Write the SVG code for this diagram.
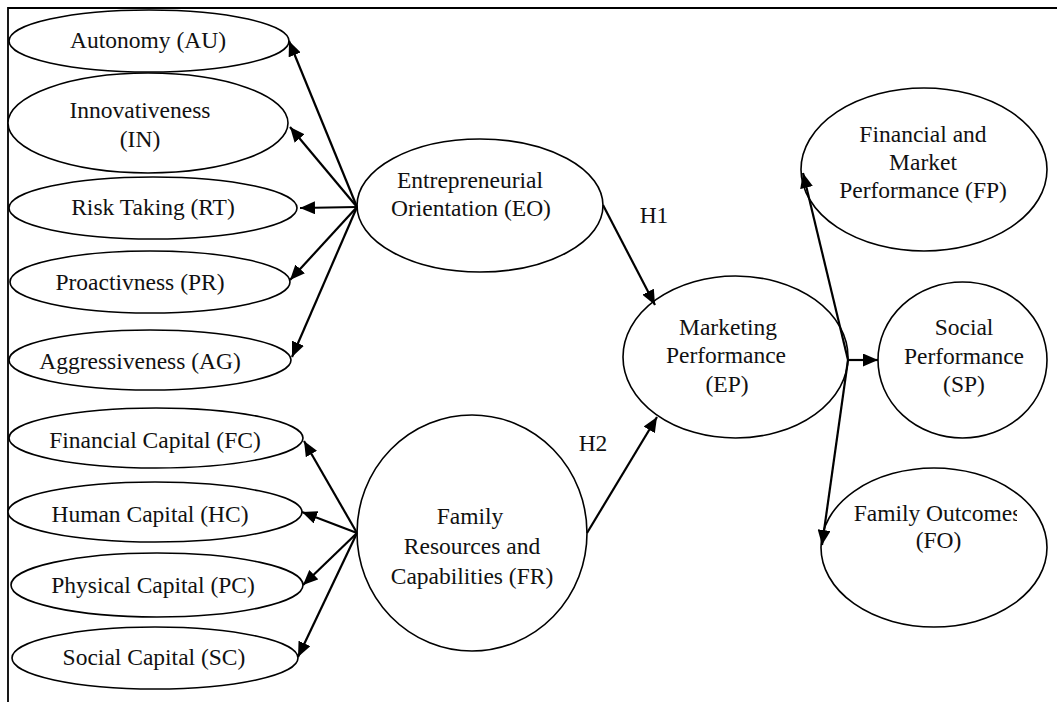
<svg xmlns="http://www.w3.org/2000/svg" width="1057" height="702" viewBox="0 0 1057 702">
<style>
.n ellipse{fill:#fff;stroke:#000;stroke-width:1.6}
text{font-family:"Liberation Serif","Times New Roman",serif;font-size:23.5px;fill:#111;text-anchor:middle}
.c line{stroke:#000;stroke-width:2.2;marker-end:url(#ah)}
.frame{stroke:#000;stroke-width:1.8;fill:none}
</style>
<defs>
<marker id="ah" markerUnits="userSpaceOnUse" markerWidth="16" markerHeight="13" refX="15" refY="6.5" orient="auto">
<path d="M0,0 L15,6.5 L0,13 z" fill="#000"/>
</marker>
<clipPath id="foclip"><rect x="800" y="460" width="217" height="180"/></clipPath>
</defs>
<rect width="1057" height="702" fill="#fff"/>
<path class="frame" d="M8,702 L8,8 L1057,8"/>

<g id="AU" class="n"><ellipse cx="149" cy="41" rx="140" ry="31"/><text x="148" y="48">Autonomy (AU)</text></g>
<g id="IN" class="n"><ellipse cx="148" cy="123" rx="140" ry="50"/><text x="140" y="118">Innovativeness</text><text x="140" y="147">(IN)</text></g>
<g id="RT" class="n"><ellipse cx="153" cy="208" rx="144" ry="31"/><text x="153" y="215">Risk Taking (RT)</text></g>
<g id="PR" class="n"><ellipse cx="150" cy="282" rx="140" ry="31"/><text x="140" y="290">Proactivness (PR)</text></g>
<g id="AG" class="n"><ellipse cx="150" cy="360" rx="141" ry="30"/><text x="140" y="369">Aggressiveness (AG)</text></g>
<g id="FC" class="n"><ellipse cx="156" cy="438" rx="147" ry="30"/><text x="155" y="448">Financial Capital (FC)</text></g>
<g id="HC" class="n"><ellipse cx="155" cy="512" rx="147" ry="30"/><text x="150" y="522">Human Capital (HC)</text></g>
<g id="PC" class="n"><ellipse cx="157" cy="585" rx="146" ry="32"/><text x="153" y="593">Physical Capital (PC)</text></g>
<g id="SC" class="n"><ellipse cx="155" cy="658" rx="143" ry="31"/><text x="154" y="665">Social Capital (SC)</text></g>

<g id="EO" class="n"><ellipse cx="480" cy="205.5" rx="123" ry="66.5"/><text x="470" y="188">Entrepreneurial</text><text x="471" y="216">Orientation (EO)</text></g>
<g id="FR" class="n"><ellipse cx="472" cy="533" rx="115" ry="118"/><text x="470" y="524">Family</text><text x="472" y="554">Resources and</text><text x="472" y="584">Capabilities (FR)</text></g>
<g id="EP" class="n"><ellipse cx="735.5" cy="357" rx="112.5" ry="81"/><text x="728" y="335">Marketing</text><text x="726" y="363">Performance</text><text x="727" y="392">(EP)</text></g>
<g id="FP" class="n"><ellipse cx="924" cy="169.5" rx="123" ry="81.5"/><text x="923" y="142">Financial and</text><text x="923" y="170">Market</text><text x="923" y="198">Performance (FP)</text></g>
<g id="SP" class="n"><ellipse cx="962.5" cy="360" rx="84.5" ry="78"/><text x="964" y="335">Social</text><text x="964" y="364">Performance</text><text x="964" y="392">(SP)</text></g>
<g id="FO" class="n"><ellipse cx="934" cy="547.5" rx="113" ry="79.5"/><text x="937.5" y="521" clip-path="url(#foclip)">Family Outcomes</text><text x="938.5" y="548">(FO)</text></g>

<g id="connectors" class="c">
<line x1="357" y1="207" x2="289" y2="41"/>
<line x1="357" y1="207" x2="290" y2="127"/>
<line x1="357" y1="207" x2="300" y2="208"/>
<line x1="357" y1="207" x2="290" y2="280"/>
<line x1="357" y1="207" x2="292" y2="357"/>
<line x1="357" y1="533" x2="304" y2="441"/>
<line x1="357" y1="533" x2="302" y2="512"/>
<line x1="357" y1="533" x2="303" y2="585"/>
<line x1="357" y1="533" x2="298" y2="657"/>
<line x1="603" y1="205" x2="655" y2="305"/>
<line x1="587" y1="533" x2="657" y2="417"/>
<line x1="848" y1="360" x2="803" y2="173"/>
<line x1="848" y1="360" x2="878" y2="360"/>
<line x1="848" y1="360" x2="822" y2="545"/>
</g>
<text x="654" y="223">H1</text>
<text x="593" y="451">H2</text>
</svg>
